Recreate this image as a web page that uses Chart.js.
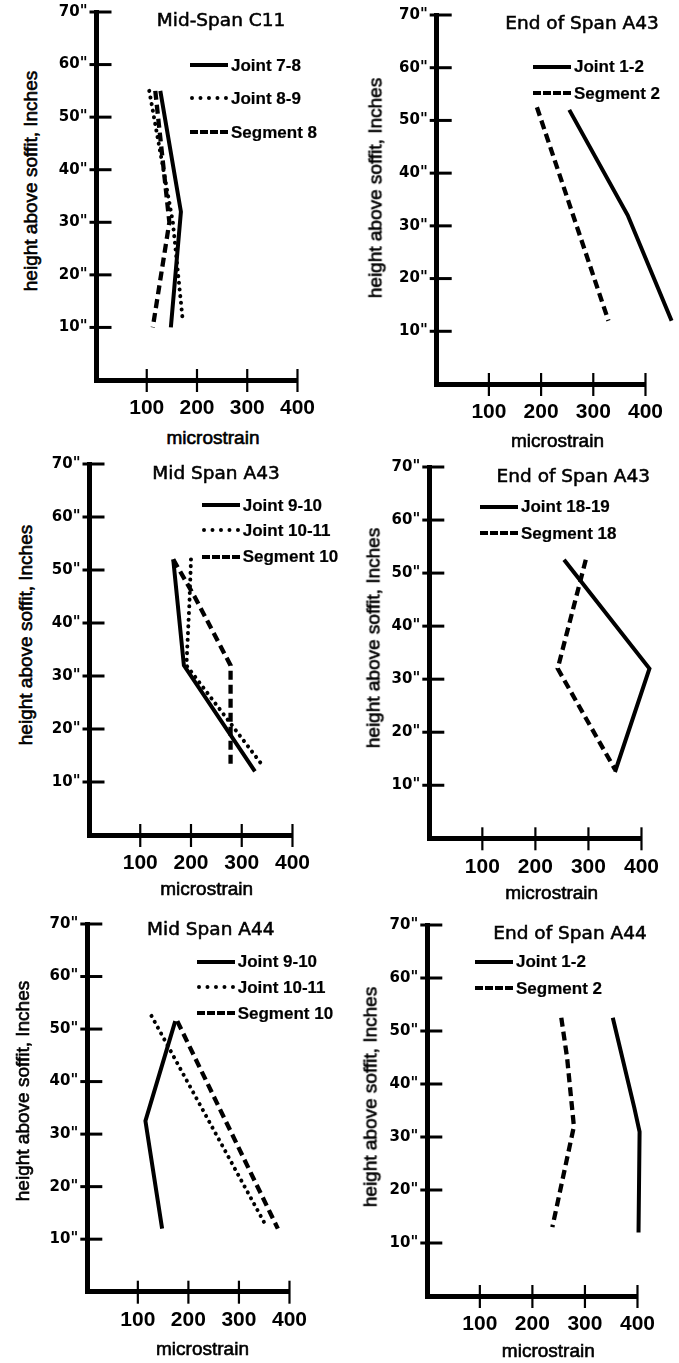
<!DOCTYPE html>
<html>
<head>
<meta charset="utf-8">
<script src="https://cdn.jsdelivr.net/npm/chart.js@4.4.1/dist/chart.umd.min.js"></script>
<style>
  html, body { margin: 0; padding: 0; background: #fff; }
  body { width: 679px; height: 1363px; position: relative; overflow: hidden; }
  canvas.panel { position: absolute; }
  .txt { position: absolute; white-space: nowrap; color: #000; line-height: 1; }
  .title { font-family: "DejaVu Sans", sans-serif; font-size: 18.5px; -webkit-text-stroke: 0.55px #000; }
  .ytitle { font-family: "Liberation Sans", Arial, sans-serif; font-size: 19px; -webkit-text-stroke: 0.6px #000; }
  .xtitle { font-family: "Liberation Sans", Arial, sans-serif; font-size: 19px; -webkit-text-stroke: 0.6px #000; }
  .leg { position: absolute; display: flex; align-items: center; white-space: nowrap; }
  .leg .sample { width: 38px; height: 0; }
  .leg .lab { font-family: "Liberation Sans", Arial, sans-serif; font-weight: bold; font-size: 17px; line-height: 1; color: #000; -webkit-text-stroke: 0.2px #000; }
</style>
</head>
<body>
<script>
// ---------------- DATA ----------------
const xAxisTitle = "microstrain";
const yAxisTitle = "height above soffit, Inches";
const xTickValues = [100, 200, 300, 400];
const yTickValues = [10, 20, 30, 40, 50, 60, 70];

// Panel 1: Mid-Span C11
const c11Title = "Mid-Span C11";
const c11Names = ["Joint 7-8", "Joint 8-9", "Segment 8"];
const c11Joint78Strain = [127, 168, 148];
const c11Joint78Height = [55, 32, 10];
const c11Joint89Strain = [105, 152, 172];
const c11Joint89Height = [55, 30, 11];
const c11Seg8Strain = [117, 145, 112];
const c11Seg8Height = [55, 30, 10];

// Panel 2: End of Span A43 (Joint 1-2 / Segment 2)
const a43EndATitle = "End of Span A43";
const a43EndANames = ["Joint 1-2", "Segment 2"];
const a43EndAJoint12Strain = [254, 366, 450];
const a43EndAJoint12Height = [52, 32, 12];
const a43EndASeg2Strain = [192, 329];
const a43EndASeg2Height = [52.5, 12];

// Panel 3: Mid Span A43
const a43MidTitle = "Mid Span A43";
const a43MidNames = ["Joint 9-10", "Joint 10-11", "Segment 10"];
const a43MidJoint910Strain = [165, 186, 326];
const a43MidJoint910Height = [52, 32, 12];
const a43MidJoint1011Strain = [200, 197, 191, 342];
const a43MidJoint1011Height = [52, 44, 32, 13];
const a43MidSeg10Strain = [165, 207, 278, 278];
const a43MidSeg10Height = [52, 45, 32, 13];

// Panel 4: End of Span A43 (Joint 18-19 / Segment 18)
const a43EndBTitle = "End of Span A43";
const a43EndBNames = ["Joint 18-19", "Segment 18"];
const a43EndBJoint1819Strain = [254, 415, 350];
const a43EndBJoint1819Height = [52.5, 32, 12.5];
const a43EndBSeg18Strain = [295, 242, 350];
const a43EndBSeg18Height = [52.5, 32, 13];

// Panel 5: Mid Span A44
const a44MidTitle = "Mid Span A44";
const a44MidNames = ["Joint 9-10", "Joint 10-11", "Segment 10"];
const a44MidJoint910Strain = [148, 115, 174];
const a44MidJoint910Height = [12, 32.5, 51.5];
const a44MidJoint1011Strain = [127, 351];
const a44MidJoint1011Height = [52.5, 13];
const a44MidSeg10Strain = [178, 377];
const a44MidSeg10Height = [51.5, 12];

// Panel 6: End of Span A44
const a44EndTitle = "End of Span A44";
const a44EndNames = ["Joint 1-2", "Segment 2"];
const a44EndJoint12Strain = [353, 394, 404, 402];
const a44EndJoint12Height = [52.5, 35.5, 31, 12];
const a44EndSeg2Strain = [255, 266, 279, 238];
const a44EndSeg2Height = [52.5, 45, 32, 13];

// ---------------- STYLES / LAYOUT ----------------
const lineStyles = {
  solid:  { borderWidth: 4, borderDash: [], borderCapStyle: 'butt', borderJoinStyle: 'miter' },
  dotted: { borderWidth: 4, borderDash: [0.1, 6.6], borderCapStyle: 'round', borderJoinStyle: 'round' },
  dashed: { borderWidth: 4.3, borderDash: [9, 5], borderCapStyle: 'butt', borderJoinStyle: 'miter' }
};

function series(name, strain, height, style) {
  return { name, style, points: strain.map((s, i) => ({ x: s, y: height[i] })) };
}

const panels = [
  { title: c11Title, series: [
      series(c11Names[0], c11Joint78Strain, c11Joint78Height, 'solid'),
      series(c11Names[1], c11Joint89Strain, c11Joint89Height, 'dotted'),
      series(c11Names[2], c11Seg8Strain, c11Seg8Height, 'dashed')],
    geo: { X0: 96.5, X400: 303, Y0: 380, Y70: 10, right: 331 },
    txt: { title: [221, 20], ytitle: [30, 181], xtitle: [213, 437], legX: 190, legRows: [65, 98, 132] } },
  { title: a43EndATitle, series: [
      series(a43EndANames[0], a43EndAJoint12Strain, a43EndAJoint12Height, 'solid'),
      series(a43EndANames[1], a43EndASeg2Strain, a43EndASeg2Height, 'dashed')],
    geo: { X0: 436.7, X400: 651.7, Y0: 384, Y70: 13, right: 679 },
    txt: { title: [582, 22.5], ytitle: [375, 188], xtitle: [557.5, 440], legX: 533, legRows: [66.7, 93.3] } },
  { title: a43MidTitle, series: [
      series(a43MidNames[0], a43MidJoint910Strain, a43MidJoint910Height, 'solid'),
      series(a43MidNames[1], a43MidJoint1011Strain, a43MidJoint1011Height, 'dotted'),
      series(a43MidNames[2], a43MidSeg10Strain, a43MidSeg10Height, 'dashed')],
    geo: { X0: 89.5, X400: 296.7, Y0: 835, Y70: 461.7, right: 326 },
    txt: { title: [216, 473], ytitle: [25, 635], xtitle: [206.7, 888], legX: 201.7, legRows: [505, 530, 556.7] } },
  { title: a43EndBTitle, series: [
      series(a43EndBNames[0], a43EndBJoint1819Strain, a43EndBJoint1819Height, 'solid'),
      series(a43EndBNames[1], a43EndBSeg18Strain, a43EndBSeg18Height, 'dashed')],
    geo: { X0: 429.3, X400: 645, Y0: 838.3, Y70: 465, right: 675 },
    txt: { title: [573.3, 475.5], ytitle: [373.3, 638], xtitle: [551.7, 891.7], legX: 480, legRows: [506.7, 533.3] } },
  { title: a44MidTitle, series: [
      series(a44MidNames[0], a44MidJoint910Strain, a44MidJoint910Height, 'solid'),
      series(a44MidNames[1], a44MidJoint1011Strain, a44MidJoint1011Height, 'dotted'),
      series(a44MidNames[2], a44MidSeg10Strain, a44MidSeg10Height, 'dashed')],
    geo: { X0: 87.3, X400: 293.3, Y0: 1291.7, Y70: 921.7, right: 323 },
    txt: { title: [210.8, 929], ytitle: [21.7, 1091], xtitle: [202.5, 1348], legX: 196.7, legRows: [961.7, 987.3, 1013.3] } },
  { title: a44EndTitle, series: [
      series(a44EndNames[0], a44EndJoint12Strain, a44EndJoint12Height, 'solid'),
      series(a44EndNames[1], a44EndSeg2Strain, a44EndSeg2Height, 'dashed')],
    geo: { X0: 427.3, X400: 641.7, Y0: 1296, Y70: 923.3, right: 671 },
    txt: { title: [570, 932.5], ytitle: [370, 1097], xtitle: [548.3, 1350], legX: 475, legRows: [961.7, 988.3] } }
];

// ---------------- PLUGIN: tick marks crossing the axes ----------------
const crossTicks = {
  id: 'crossTicks',
  afterDraw(chart) {
    const ctx = chart.ctx;
    const x = chart.scales.x, y = chart.scales.y;
    const xl = chart.chartArea.left, yb = chart.chartArea.bottom;
    ctx.save();
    ctx.strokeStyle = '#000';
    ctx.setLineDash([]);
    ctx.lineCap = 'butt';
    ctx.lineWidth = 3;
    yTickValues.forEach(v => {
      const py = y.getPixelForValue(v);
      ctx.beginPath(); ctx.moveTo(xl - 7, py); ctx.lineTo(xl + 15, py); ctx.stroke();
    });
    ctx.lineWidth = 2.2;
    xTickValues.forEach(v => {
      const px = x.getPixelForValue(v);
      ctx.beginPath(); ctx.moveTo(px, yb - 11); ctx.lineTo(px, yb + 12); ctx.stroke();
    });
    ctx.restore();
  }
};

// ---------------- BUILD ----------------
function addText(cls, text, cx, cy, rotate) {
  const d = document.createElement('div');
  d.className = 'txt ' + cls;
  d.textContent = text;
  d.style.left = cx + 'px';
  d.style.top = cy + 'px';
  d.style.transform = 'translate(-50%,-50%)' + (rotate ? ' rotate(-90deg)' : '');
  document.body.appendChild(d);
}

function sampleCss(style) {
  if (style === 'solid') return 'border-top:4px solid #000';
  if (style === 'dotted') return 'border-top:4px dotted #000';
  return 'border-top:4px dashed #000';
}

panels.forEach((p) => {
  const g = p.geo;
  const left = Math.round(g.X0) - 52;
  const top = Math.round(g.Y70) - 16;
  const width = Math.round(g.right) - left;
  const height = Math.round(g.Y0) + 46 - top;
  const cv = document.createElement('canvas');
  cv.className = 'panel';
  cv.width = width; cv.height = height;
  cv.style.left = left + 'px'; cv.style.top = top + 'px';
  cv.style.width = width + 'px'; cv.style.height = height + 'px';
  document.body.appendChild(cv);

  const yW = g.X0 - left;
  const xH = (top + height) - g.Y0;
  new Chart(cv.getContext('2d'), {
    type: 'scatter',
    data: {
      datasets: p.series.map(s => Object.assign({
        label: s.name, data: s.points, showLine: true,
        pointRadius: 0, pointHoverRadius: 0,
        borderColor: '#000', backgroundColor: '#000',
        fill: false, tension: 0, clip: false
      }, lineStyles[s.style]))
    },
    options: {
      responsive: false, animation: false, devicePixelRatio: 1, events: [],
      layout: { padding: { left: 0, top: g.Y70 - top, right: (left + width) - g.X400, bottom: 0 } },
      plugins: { legend: { display: false }, tooltip: { enabled: false }, title: { display: false } },
      scales: {
        x: {
          type: 'linear', min: 0, max: 400,
          afterFit: (s) => { s.height = xH; },
          grid: { display: false, drawTicks: false },
          border: { display: true, color: '#000', width: 5 },
          ticks: {
            stepSize: 100, padding: 16, color: '#000',
            font: { family: '"Liberation Sans Narrow", "Liberation Sans", Arial, sans-serif', weight: 'bold', size: 21 },
            callback: (v) => xTickValues.includes(v) ? String(v) : ''
          }
        },
        y: {
          type: 'linear', min: 0, max: 70,
          afterFit: (s) => { s.width = yW; },
          grid: { display: false, drawTicks: false },
          border: { display: true, color: '#000', width: 5 },
          ticks: {
            stepSize: 10, padding: 9, color: '#000',
            font: { family: '"DejaVu Sans", sans-serif', weight: 'bold', size: 15 },
            callback: (v) => yTickValues.includes(v) ? v + '"' : ''
          }
        }
      }
    },
    plugins: [crossTicks]
  });

  addText('title', p.title, p.txt.title[0], p.txt.title[1]);
  addText('ytitle', yAxisTitle, p.txt.ytitle[0], p.txt.ytitle[1], true);
  addText('xtitle', xAxisTitle, p.txt.xtitle[0], p.txt.xtitle[1]);

  p.series.forEach((s, i) => {
    const row = document.createElement('div');
    row.className = 'leg';
    row.style.left = p.txt.legX + 'px';
    row.style.top = (p.txt.legRows[i] - 10) + 'px';
    row.style.height = '20px';
    row.innerHTML = '<div class="sample" style="' + sampleCss(s.style) + '"></div>' +
                    '<div class="lab" style="margin-left:3px">' + s.name + '</div>';
    document.body.appendChild(row);
  });
});
</script>
</body>
</html>
